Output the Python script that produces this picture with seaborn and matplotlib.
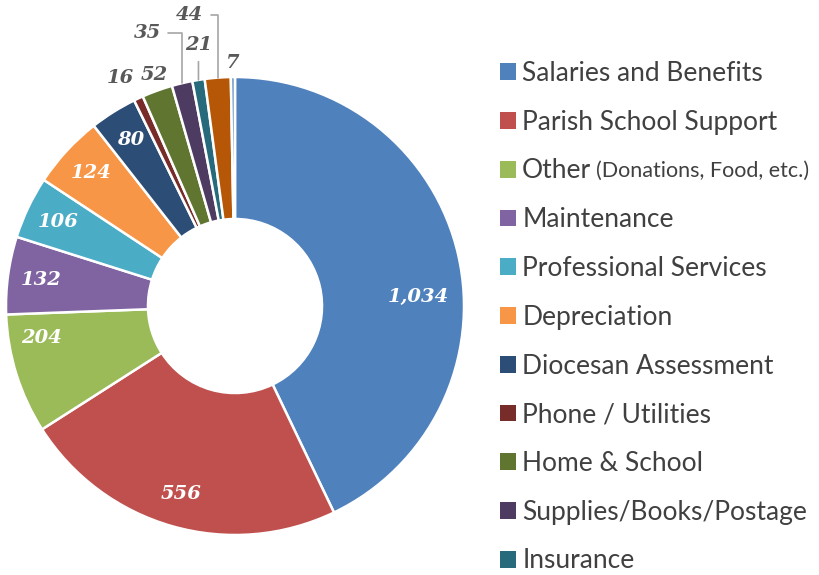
import numpy as np
import matplotlib
matplotlib.use("Agg")
import matplotlib.pyplot as plt
import seaborn as sns
from matplotlib.patches import Patch

# Expense categories (legend only shows the first eleven)
categories = ["Salaries and Benefits", "Parish School Support", "Other",
              "Maintenance", "Professional Services", "Depreciation",
              "Diocesan Assessment", "Phone / Utilities", "Home & School",
              "Supplies/Books/Postage", "Insurance"]
other_note = "(Donations, Food, etc.)"
values = [1034, 556, 204, 132, 106, 124, 80, 16, 52, 35, 21]
# two last slices, their legend entries fall outside the picture
extra_values = [44, 7]

colors = ["#4F81BD", "#C0504D", "#9BBB59", "#8064A2", "#4BACC6", "#F79646",
          "#2C4D75", "#772C2A", "#5F7530", "#4D3B62", "#276A7C",
          "#B65708", "#729ACA"]

sns.set_theme(style="white")
plt.rcParams["font.family"] = ["Lato", "DejaVu Sans"]

all_values = values + extra_values
palette = sns.color_palette(colors)

fig = plt.figure(figsize=(8.2, 5.75), dpi=100)
ax = fig.add_axes([6 / 820, 40 / 575, 458 / 820, 458 / 575])

wedges, _ = ax.pie(all_values, colors=palette, startangle=90, counterclock=False,
                   radius=1.0,
                   wedgeprops=dict(width=0.62, edgecolor="white", linewidth=1.8))
ax.set_xlim(-1, 1)
ax.set_ylim(-1, 1)
ax.set_aspect("equal")

num_font = dict(family="DejaVu Serif", weight="bold", style="italic", size=14)

# inside labels: small angle nudges (degrees) / radius tweaks like the original layout
nudge = {0: -10, 2: -8}
radius = {0: 0.80}
# offsets (points) for the small slices labelled outside the ring
outside = {7: (-13, 15, None), 8: (-2, 11, None), 9: (-25, 36, "elbow"),
           10: (0, 25, "straight"), 11: (-20, 45, "elbow"), 12: (0, 10, None)}

for i, (w, v) in enumerate(zip(wedges, all_values)):
    mid = np.deg2rad((w.theta1 + w.theta2) / 2 + nudge.get(i, 0))
    txt = f"{v:,}"
    if i not in outside:
        r = radius.get(i, 0.855)
        ax.text(r * np.cos(mid), r * np.sin(mid), txt, ha="center", va="center",
                color="white", **num_font)
    else:
        dx, dy, kind = outside[i]
        anchor = (np.cos(mid), np.sin(mid))
        if kind is None:
            ax.annotate(txt, xy=anchor, xytext=(dx, dy), textcoords="offset points",
                        ha="center", va="center", color="#595959",
                        annotation_clip=False, **num_font)
        elif kind == "elbow":
            ax.annotate(txt, xy=anchor, xytext=(dx, dy), textcoords="offset points",
                        ha="center", va="center", color="#595959",
                        annotation_clip=False,
                        arrowprops=dict(arrowstyle="-", color="#A6A6A6", lw=1.2,
                                        connectionstyle="angle,angleA=0,angleB=90,rad=0",
                                        relpos=(1, 0.5), shrinkA=3, shrinkB=0),
                        **num_font)
        else:
            ax.annotate(txt, xy=anchor, xytext=(dx, dy), textcoords="offset points",
                        ha="center", va="center", color="#595959",
                        annotation_clip=False,
                        arrowprops=dict(arrowstyle="-", color="#A6A6A6", lw=1.2,
                                        relpos=(0.5, 0), shrinkA=3, shrinkB=0),
                        **num_font)

# legend
fs = 19
handles = [Patch(facecolor=palette[i], edgecolor="none") for i in range(len(categories))]
leg = fig.legend(handles, categories, loc="upper left",
                 bbox_to_anchor=(500 / 820, 1 - 61 / 575), frameon=False,
                 fontsize=fs, handlelength=11.5 / fs, handleheight=11.5 / fs,
                 handletextpad=4.5 / fs, labelspacing=0.9, borderpad=0,
                 borderaxespad=0, labelcolor="#404040")

# smaller note after "Other"
fig.canvas.draw()
t_other = leg.get_texts()[2]
bb = t_other.get_window_extent()
fig.text((bb.x1 + 5) / fig.bbox.width, (bb.y0 + bb.y1) / 2 / fig.bbox.height,
         other_note, ha="left", va="center", fontsize=15.5, color="#404040")

fig.savefig("out.png", dpi=100)
